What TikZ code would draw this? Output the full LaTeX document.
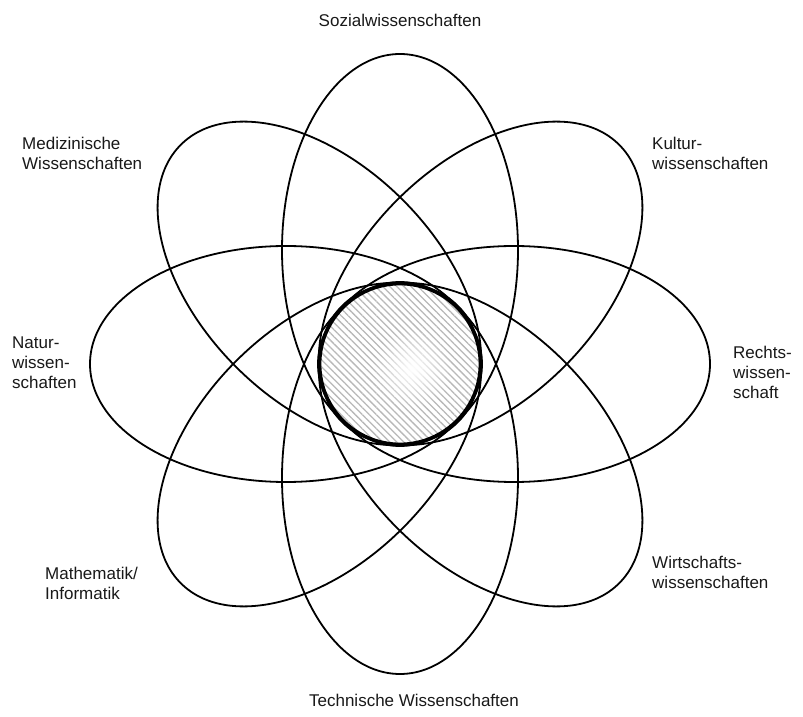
\documentclass[tikz,border=0pt]{standalone}
\usepackage{fontspec}
\setmainfont{Liberation Sans}
\usetikzlibrary{patterns.meta,fadings}
\tikzfading[name=centrefade, inner color=transparent!0, outer color=transparent!100]
\begin{document}
\begin{tikzpicture}[x=1pt,y=1pt,
  petal/.style={draw=black, line width=1.8pt},
  ring/.style={draw=black, line width=2.8pt},
  lab/.style={font=\fontsize{17}{20}\selectfont, align=left, inner sep=0pt, text=black!90}]
\useasboundingbox (-400,-353) rectangle (403,364);
\fill[white] (-400,-353) rectangle (403,364);
\coordinate (c) at (0,0);
\fill[pattern={Lines[angle=-45,distance=5pt,line width=1.3pt]}, pattern color=black!28] (c) circle (80);
\fill[white, path fading=centrefade] (12,-5) circle (40);
\foreach \a in {0,45,...,315}
  \draw[petal, rotate around={\a:(c)}] (114,0) ellipse [x radius=196, y radius=118];
\draw[ring] (c) circle (80);
\node[lab, anchor=center] (sozial) at (0,344) {Sozialwissenschaften};
\node[lab, anchor=center] (technik) at (14,-336) {Technische Wissenschaften};
\node[lab, anchor=west] (medizin) at (-378,211) {Medizinische\\Wissenschaften};
\node[lab, anchor=west] (kultur) at (252,211) {Kultur-\\wissenschaften};
\node[lab, anchor=west] (natur) at (-388,1) {Natur-\\wissen-\\schaften};
\node[lab, anchor=west] (recht) at (333,-8) {Rechts-\\wissen-\\schaft};
\node[lab, anchor=west] (mathe) at (-355,-219) {Mathematik/\\Informatik};
\node[lab, anchor=west] (wirtschaft) at (252,-208) {Wirtschafts-\\wissenschaften};
\end{tikzpicture}
\end{document}
